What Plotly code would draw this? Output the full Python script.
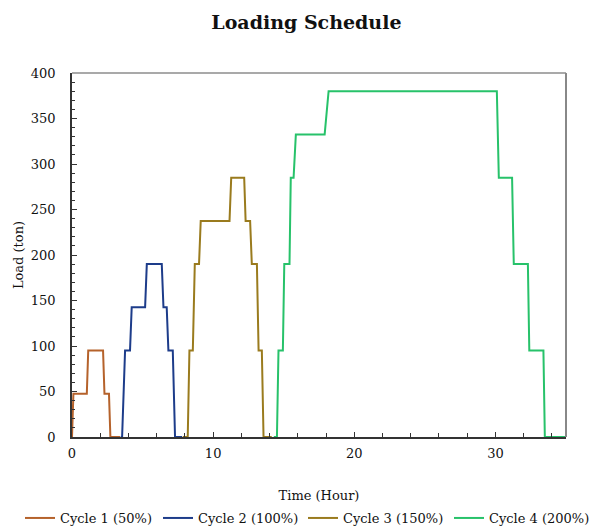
import plotly.graph_objects as go

# ---- data ----
cycle1_t = [0, 0.1, 1.05, 1.15, 2.2, 2.3, 2.62, 2.72, 3.4]
cycle1_load = [0, 47.5, 47.5, 95, 95, 47.5, 47.5, 0, 0]

cycle2_t = [3.45, 3.55, 3.76, 4.11, 4.23, 5.18, 5.3, 6.36, 6.48, 6.71, 6.83, 7.14, 7.3, 7.8]
cycle2_load = [0, 0, 95, 95, 142.5, 142.5, 190, 190, 142.5, 142.5, 95, 95, 0, 0]

cycle3_t = [7.85, 8.2, 8.32, 8.56, 8.7, 9.0, 9.12, 11.16, 11.28, 12.2, 12.3, 12.62, 12.74,
            13.1, 13.22, 13.45, 13.57, 14.15]
cycle3_load = [0, 0, 95, 95, 190, 190, 237.5, 237.5, 285, 285, 237.5, 237.5, 190,
               190, 95, 95, 0, 0]

cycle4_t = [14.3, 14.52, 14.63, 14.94, 15.04, 15.41, 15.5, 15.7, 15.86, 17.9, 18.18,
            30.1, 30.24, 31.18, 31.3, 32.3, 32.4, 33.4, 33.5, 35]
cycle4_load = [0, 0, 95, 95, 190, 190, 285, 285, 332.5, 332.5, 380,
               380, 285, 285, 190, 190, 95, 95, 0, 0]

names = ["Cycle 1 (50%)", "Cycle 2 (100%)", "Cycle 3 (150%)", "Cycle 4 (200%)"]
colors = ["#B5622B", "#1D3C8A", "#9A7B1E", "#27C26A"]

FONT = "DejaVu Serif"

legend_ids = ["legend", "legend2", "legend3", "legend4"]
legend_left_px = [20, 158, 303, 449]

fig = go.Figure()
for t, y, n, c, lg in zip([cycle1_t, cycle2_t, cycle3_t, cycle4_t],
                          [cycle1_load, cycle2_load, cycle3_load, cycle4_load],
                          names, colors, legend_ids):
    fig.add_trace(go.Scatter(x=t, y=y, mode="lines", name=n, legend=lg,
                             line=dict(color=c, width=2)))

fig.update_layout(
    width=595, height=530,
    margin=dict(l=72, r=29, t=73, b=93, autoexpand=False),
    paper_bgcolor="white", plot_bgcolor="white",
    font=dict(family=FONT, size=12, color="#111"),
    title=dict(text="<b>Loading Schedule</b>", x=0.515, xanchor="center",
               y=1 - 22 / 530, yanchor="middle",
               font=dict(family=FONT, size=19, color="#111")),
    showlegend=True,
)
for lg, px in zip(legend_ids, legend_left_px):
    fig.update_layout({lg: dict(orientation="h", xref="container", yref="container",
                                x=px / 595, xanchor="left", y=1 - 518 / 530,
                                yanchor="middle", bgcolor="rgba(0,0,0,0)",
                                font=dict(family=FONT, size=13, color="#111"),
                                itemwidth=30)})

fig.update_xaxes(
    range=[0, 35], dtick=10, tick0=0,
    showgrid=False, zeroline=False,
    showline=True, linecolor="#333", linewidth=1.5,
    ticks="inside", ticklen=5, tickcolor="#333",
    minor=dict(dtick=2, ticks="inside", ticklen=4, tickcolor="#333"),
    tickfont=dict(family=FONT, size=13, color="#111"),
    ticklabelstandoff=4,
    title=dict(text="Time (Hour)", font=dict(family=FONT, size=13, color="#111"),
               standoff=33),
)
fig.update_yaxes(
    range=[0, 400], dtick=50, tick0=0,
    showgrid=False, zeroline=False,
    showline=True, linecolor="#333", linewidth=1.5,
    ticks="inside", ticklen=5, tickcolor="#333",
    minor=dict(dtick=10, ticks="inside", ticklen=3, tickcolor="#333"),
    tickfont=dict(family=FONT, size=13, color="#111"),
    ticklabelstandoff=12,
    title=dict(text="Load (ton)", font=dict(family=FONT, size=13, color="#111"),
               standoff=4),
)

# grey frame on top and right
fig.add_shape(type="line", xref="paper", yref="paper", x0=0, x1=1, y0=1, y1=1,
              line=dict(color="#555", width=1.2))
fig.add_shape(type="line", xref="paper", yref="paper", x0=1, x1=1, y0=0, y1=1,
              line=dict(color="#888", width=2))

fig.write_html("out.html")
